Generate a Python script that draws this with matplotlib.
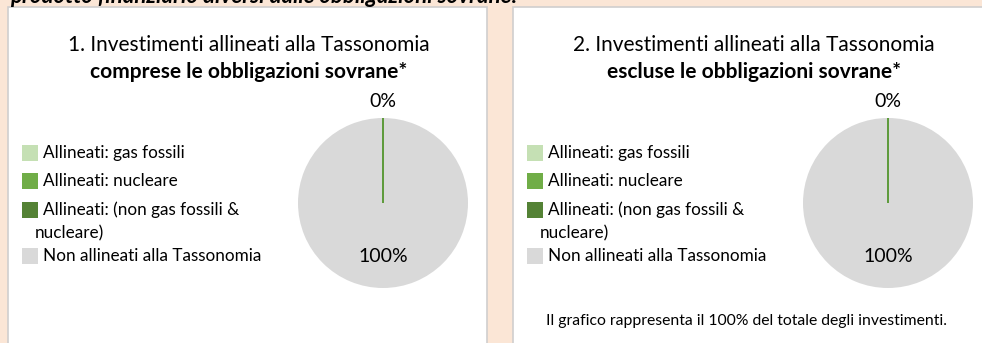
import numpy as np
import matplotlib.pyplot as plt
from matplotlib.patches import Rectangle

W, H = 982, 343

categories = [
    "Allineati: gas fossili",
    "Allineati: nucleare",
    "Allineati: (non gas fossili &\nnucleare)",
    "Non allineati alla Tassonomia",
]
colors = ["#C5E0B4", "#70AD47", "#548235", "#D9D9D9"]

incl_sovereign = [0, 0, 0, 100]
excl_sovereign = [0, 0, 0, 100]

titles = [
    ("1. Investimenti allineati alla Tassonomia", "comprese le obbligazioni sovrane*"),
    ("2. Investimenti allineati alla Tassonomia", "escluse le obbligazioni sovrane*"),
]
header = "prodotto finanziario diversi dalle obbligazioni sovrane:"
footnote = "Il grafico rappresenta il 100% del totale degli investimenti."

plt.rcParams['font.family'] = ['Lato', 'DejaVu Sans']

fig = plt.figure(figsize=(W / 100, H / 100), dpi=100)
fig.patch.set_facecolor("#FBE6D6")


def fx(x):
    return x / W


def fy(y):
    return 1 - y / H


# header line, partly above the top edge
fig.text(fx(10), fy(3), header, fontsize=16, fontweight="bold", style="italic",
         ha="left", va="baseline", color="#000000")


def panel(x0, values, title, show_footnote=False):
    fig.patches.append(Rectangle((fx(x0), fy(H + 5)), fx(479), (H - 2) / H,
                                 transform=fig.transFigure, facecolor="white",
                                 edgecolor="#D0CECE", linewidth=1.2, zorder=-5))
    cx = x0 + 241
    fig.text(fx(cx), fy(45), title[0], fontsize=15, ha="center", va="center")
    fig.text(fx(cx), fy(72), title[1], fontsize=15, ha="center", va="center",
             fontweight="bold")

    # legend
    rows = [153, 181, 210, 256]
    for lab, col, y in zip(categories, colors, rows):
        fig.patches.append(Rectangle((fx(x0 + 14), fy(y + 8)), fx(16), 16 / H,
                                     transform=fig.transFigure, facecolor=col,
                                     edgecolor="none"))
        first, *rest = lab.split("\n")
        fig.text(fx(x0 + 35), fy(y), first, fontsize=12.3, ha="left", va="center")
        if rest:
            fig.text(fx(x0 + 27), fy(y + 23), rest[0], fontsize=12.3, ha="left",
                     va="center")

    ax = fig.add_axes([fx(x0 + 290), fy(288), fx(170), 170 / H])
    ax.set_zorder(2)
    ax.pie(values, colors=colors, startangle=90, counterclock=False,
           wedgeprops=dict(linewidth=0))

    # zero-size slices show up only as a thin border line from the centre
    total = sum(values)
    starts = 90 - 360 * np.cumsum([0] + values[:-1]) / total
    for v, a in zip(values, starts):
        if v == 0:
            t = np.deg2rad(a)
            ax.plot([0, np.cos(t)], [0, np.sin(t)], color="#5E9B3C", lw=1.1,
                    solid_capstyle="butt")
    ax.set_xlim(-1, 1)
    ax.set_ylim(-1, 1)
    ax.set_aspect("equal")
    ax.axis("off")

    # percentage labels: zero slices share the spot above the pie
    ax.text(0, 1.2, "0%", ha="center", va="center", fontsize=14)
    ax.text(0, -0.63, f"{values[-1] / total * 100:.0f}%", ha="center",
            va="center", fontsize=14)

    if show_footnote:
        fig.text(fx(x0 + 33), fy(321), footnote, fontsize=11.3, ha="left",
                 va="center")


panel(8, incl_sovereign, titles[0])
panel(513, excl_sovereign, titles[1], show_footnote=True)

fig.savefig("out.png", dpi=100, facecolor=fig.get_facecolor())
